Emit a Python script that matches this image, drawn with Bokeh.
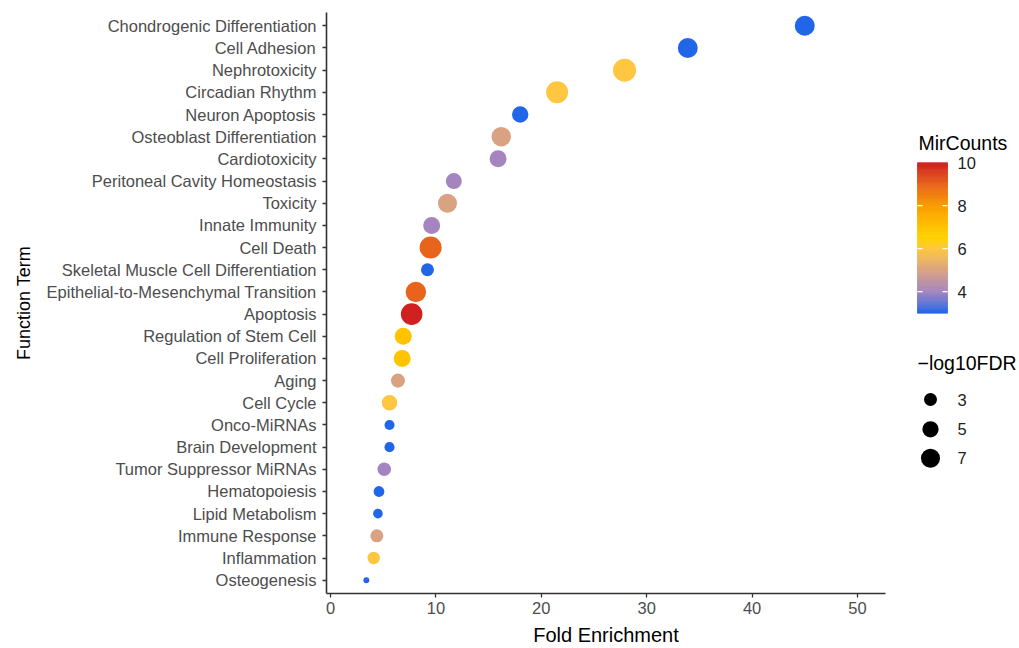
import numpy as np
from bokeh.plotting import figure
from bokeh.layouts import row
from bokeh.models import FactorRange, Range1d, FixedTicker, ColumnDataSource
from bokeh.core.properties import value
from bokeh.embed import file_html
from bokeh.resources import INLINE

# ---------------- data ----------------
terms = ["Chondrogenic Differentiation", "Cell Adhesion", "Nephrotoxicity",
         "Circadian Rhythm", "Neuron Apoptosis", "Osteoblast Differentiation",
         "Cardiotoxicity", "Peritoneal Cavity Homeostasis", "Toxicity",
         "Innate Immunity", "Cell Death", "Skeletal Muscle Cell Differentiation",
         "Epithelial-to-Mesenchymal Transition", "Apoptosis",
         "Regulation of Stem Cell", "Cell Proliferation", "Aging", "Cell Cycle",
         "Onco-MiRNAs", "Brain Development", "Tumor Suppressor MiRNAs",
         "Hematopoiesis", "Lipid Metabolism", "Immune Response", "Inflammation",
         "Osteogenesis"]
fold_enrichment = [45.0, 33.9, 27.9, 21.5, 18.0, 16.2, 15.9, 11.7, 11.1, 9.6,
                   9.5, 9.2, 8.1, 7.7, 6.9, 6.8, 6.4, 5.6, 5.6, 5.6, 5.1, 4.6,
                   4.5, 4.4, 4.1, 3.4]
mir_counts = [3, 3, 6, 6, 3, 5, 4, 4, 5, 4, 9, 3, 9, 10, 7, 7, 5, 6, 3, 3, 4,
              3, 3, 5, 6, 3]
neg_log10_fdr = [7.8, 7.8, 10.5, 9.6, 5.1, 7.4, 5.5, 4.8, 7.0, 5.5, 9.6, 3.0,
                 8.2, 9.2, 5.5, 5.5, 3.6, 4.5, 1.6, 1.6, 3.3, 1.9, 1.4, 3.0,
                 2.7, 0.2]
x_ticks = [0, 10, 20, 30, 40, 50]
color_ticks = [4, 6, 8, 10]
size_breaks = [3, 5, 7]

# ---------------- scales ----------------
stop_vals = [3, 4, 5, 6, 6.5, 7, 8, 9, 10]
stop_cols = ["#2166E8", "#A485C0", "#D9A283", "#FFC640", "#FFD200", "#FFC300",
             "#F99C00", "#E8641C", "#D02020"]


def hex2rgb(h):
    h = h.lstrip("#")
    return np.array([int(h[i:i + 2], 16) for i in (0, 2, 4)], dtype=float)


stop_rgb = np.array([hex2rgb(c) for c in stop_cols])


def color_of(v):
    r = [np.interp(v, stop_vals, stop_rgb[:, k]) for k in range(3)]
    return "#%02x%02x%02x" % tuple(int(round(c)) for c in r)


def size_of(v):
    return float(np.sqrt(25 + 48 * v))


FONT = value("Liberation Sans")

src = ColumnDataSource(dict(
    term=terms, fold=fold_enrichment,
    color=[color_of(m) for m in mir_counts],
    size=[size_of(v) for v in neg_log10_fdr],
))

FRAME_TOP, FRAME_BOTTOM = 12, 596
H = 648

# ---------------- main plot ----------------
p = figure(width=908, height=H,
           y_range=FactorRange(factors=terms[::-1], range_padding=0.1,
                               range_padding_units="absolute"),
           x_range=Range1d(-0.38, 52.66),
           output_backend="svg", toolbar_location=None,
           min_border_left=326, min_border_right=23,
           min_border_top=FRAME_TOP, min_border_bottom=H - FRAME_BOTTOM)
p.outline_line_color = None
p.xgrid.visible = False
p.ygrid.visible = False
p.background_fill_color = "white"
p.border_fill_color = "white"

p.scatter(x="fold", y="term", size="size", fill_color="color",
          line_color=None, source=src)

for ax in (p.xaxis[0], p.yaxis[0]):
    ax.axis_line_color = "#333333"
    ax.axis_line_width = 1.6
    ax.major_tick_line_color = "#333333"
    ax.major_tick_line_width = 1.3
    ax.major_tick_out = 4
    ax.major_tick_in = 0
    ax.minor_tick_line_color = None
    ax.major_label_text_color = "#4D4D4D"
    ax.major_label_text_font = "Liberation Sans"
    ax.major_label_text_font_size = "16.5px"
    ax.axis_label_text_font = "Liberation Sans"
    ax.axis_label_text_font_style = "normal"
    ax.axis_label_text_color = "black"

p.xaxis.ticker = FixedTicker(ticks=x_ticks)
p.xaxis.axis_label = "Fold Enrichment"
p.xaxis.axis_label_text_font_size = "20px"
p.xaxis.major_label_standoff = 4
p.xaxis.axis_label_standoff = 7

p.yaxis.axis_label = "Function Term"
p.yaxis.axis_label_text_font_size = "18px"
p.yaxis.major_label_standoff = 6
p.yaxis.axis_label_standoff = 10

# ---------------- legend panel (page-pixel coordinates) ----------------
# its frame is aligned with the main frame, so map y to page pixels
L = figure(width=111, height=H, x_range=Range1d(908, 1019),
           y_range=Range1d(FRAME_BOTTOM, FRAME_TOP), output_backend="svg",
           toolbar_location=None, min_border=0,
           min_border_top=FRAME_TOP, min_border_bottom=H - FRAME_BOTTOM)
L.axis.visible = False
L.xgrid.visible = False
L.ygrid.visible = False
L.outline_line_color = None

cb_top, cb_px = 163.0, 21.6   # y of value 10, px per unit
vmin, vmax = 3, 10


def cb_y(v):
    return cb_top + (vmax - v) * cb_px


steps = np.linspace(vmin, vmax, 141)
cols = [color_of((a + b) / 2) for a, b in zip(steps[:-1], steps[1:])]
L.quad(left=917, right=947,
       top=[cb_y(b) for b in steps[1:]], bottom=[cb_y(a) for a in steps[:-1]],
       fill_color=cols, line_color=cols, line_width=0.8)
tick_vs = [t for t in color_ticks if t < vmax]
L.segment(x0=[917] * len(tick_vs), x1=[922] * len(tick_vs),
          y0=[cb_y(t) for t in tick_vs], y1=[cb_y(t) for t in tick_vs],
          line_color="white", line_width=1.2)
L.segment(x0=[942] * len(tick_vs), x1=[947] * len(tick_vs),
          y0=[cb_y(t) for t in tick_vs], y1=[cb_y(t) for t in tick_vs],
          line_color="white", line_width=1.2)
L.text(x=[957] * len(color_ticks), y=[cb_y(t) for t in color_ticks],
       text=[str(t) for t in color_ticks], text_font=FONT,
       text_font_size="16.5px", text_color="#222222", text_baseline="middle",
       text_align="left")
L.text(x=[918], y=[143], text=["MirCounts"], text_font=FONT,
       text_font_size="19.5px", text_color="black", text_baseline="middle",
       text_align="left")

L.text(x=[917], y=[364], text=["\u2212log10FDR"], text_font=FONT,
       text_font_size="19.5px", text_color="black", text_baseline="middle",
       text_align="left")
size_y = [401, 431, 460]
L.scatter(x=[930] * len(size_breaks), y=size_y,
          size=[size_of(v) for v in size_breaks], fill_color="black",
          line_color=None)
L.text(x=[957] * len(size_breaks), y=size_y,
       text=[str(s) for s in size_breaks], text_font=FONT,
       text_font_size="16.5px", text_color="#222222", text_baseline="middle",
       text_align="left")

layout = row(p, L)
open("out.html", "w").write(file_html(layout, INLINE))
